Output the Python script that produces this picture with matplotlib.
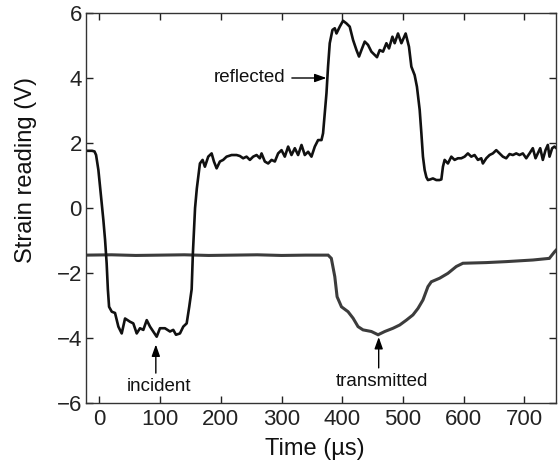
import matplotlib
matplotlib.use("Agg")
import matplotlib.pyplot as plt

plt.rcParams['font.family'] = ['Liberation Sans', 'DejaVu Sans']

# Incident / reflected bar signal (time in µs, strain reading in V)
bar_time = [-22, -18, -12, -8, -5.4, -1.6, 1.2, 3.9, 6.6, 9.4, 12, 14, 16, 20.4, 25.8,
            31.3, 36.8, 42.3, 50.5, 55.9, 61.5, 66.9, 72.4, 78, 83.4, 88.8, 94.4,
            99.8, 108, 116.3, 121.7, 126.2, 132.7, 138.2, 143.8, 148, 152, 154,
            157.6, 160.5, 162.8, 165.6, 170, 173.8, 179.3, 184.9, 188.7, 193.1,
            198.5, 203.9, 209.5, 217.8, 226, 231.4, 236.8, 242.4, 247.9, 253.3,
            258.9, 264.3, 267.1, 272.5, 278, 283.6, 289, 294.4, 300, 305.4, 310.9,
            316.4, 321.9, 327.3, 332.9, 338.3, 343.8, 349.3, 354.8, 360.2, 365.8,
            368.4, 371.2, 374, 376.6, 379.4, 383.9, 387.7, 390.5, 395.9, 401.3,
            406.9, 412.3, 417.8, 423.4, 427.6, 431.6, 437, 442.4, 448, 453.5, 457.2,
            461.7, 467.1, 472.7, 477, 482.6, 486.3, 491.8, 497.4, 504.4, 509.9,
            513.8, 519.2, 523, 527.5, 530.3, 532.9, 535.7, 538.5, 541.1, 545, 549.3,
            554.9, 560, 563.2, 565.8, 568.6, 574, 579.6, 585, 590.5, 596, 601.5,
            606.9, 612.5, 617.9, 623.4, 628.9, 631.6, 637.2, 642.6, 648, 653.6, 659,
            664.5, 670, 675.5, 681, 686.5, 691.9, 697.4, 703, 708.4, 713.8, 718.3,
            722, 726, 730.3, 734.7, 738.5, 741.3, 745.7, 749.5, 752]
bar_volt = [1.76, 1.76, 1.76, 1.74, 1.63, 1.17, 0.66, 0.14, -0.37, -0.98, -1.7, -2.5,
            -3.04, -3.19, -3.23, -3.65, -3.86, -3.4, -3.5, -3.55, -3.86, -3.7, -3.75,
            -3.45, -3.65, -3.8, -3.96, -3.7, -3.7, -3.8, -3.75, -3.9, -3.86, -3.65,
            -3.55, -3.04, -2.5, -1.4, 0.0, 0.6, 0.96, 1.37, 1.48, 1.27, 1.58, 1.68,
            1.43, 1.22, 1.43, 1.48, 1.58, 1.63, 1.63, 1.6, 1.53, 1.58, 1.48, 1.58,
            1.63, 1.53, 1.68, 1.43, 1.37, 1.48, 1.43, 1.68, 1.78, 1.58, 1.89, 1.63,
            1.84, 1.63, 1.94, 1.63, 1.73, 1.58, 1.89, 2.09, 2.09, 2.3, 2.91, 3.53,
            4.35, 5.07, 5.48, 5.53, 5.37, 5.58, 5.76, 5.68, 5.58, 5.17, 4.86, 4.66,
            4.86, 5.12, 5.02, 4.81, 4.71, 4.64, 4.86, 4.81, 5.07, 4.91, 5.27, 5.07,
            5.37, 5.07, 5.37, 4.96, 4.35, 4.09, 3.73, 3.02, 2.3, 1.58, 1.17, 0.95,
            0.86, 0.88, 0.91, 0.86, 0.86, 0.88, 1.27, 1.48, 1.37, 1.58, 1.48, 1.53,
            1.53, 1.58, 1.68, 1.58, 1.63, 1.48, 1.53, 1.37, 1.53, 1.63, 1.68, 1.78,
            1.68, 1.58, 1.53, 1.66, 1.63, 1.68, 1.63, 1.68, 1.53, 1.68, 1.84, 1.53,
            1.68, 1.84, 1.48, 1.78, 1.94, 1.58, 1.84, 1.89, 1.85]

# Transmitted bar signal
trans_time = [-22, 20, 60, 100, 140, 180, 220, 260, 300, 340, 376.7, 382, 387.7, 391.5,
              398.7, 409.5, 417.8, 426, 434.2, 448, 459, 470, 483.6, 494.6, 505.6,
              516.4, 524.7, 532.9, 541.1, 546.7, 560.4, 574, 587.8, 598.7, 637, 670,
              714, 741, 749.5, 752]
trans_volt = [-1.45, -1.44, -1.46, -1.45, -1.44, -1.46, -1.45, -1.44, -1.46, -1.45,
              -1.45, -1.55, -2.11, -2.73, -3.04, -3.19, -3.39, -3.65, -3.75, -3.8,
              -3.9, -3.8, -3.7, -3.6, -3.45, -3.29, -3.09, -2.83, -2.42, -2.27, -2.16,
              -2.01, -1.8, -1.7, -1.68, -1.65, -1.6, -1.55, -1.35, -1.3]

x_ticks = [0, 100, 200, 300, 400, 500, 600, 700]
y_ticks = [-6, -4, -2, 0, 2, 4, 6]

fig = plt.figure(figsize=(5.58, 4.66), dpi=100)
ax = fig.add_axes([86/558, 1-403/466, (556-86)/558, (403-13)/466])

ax.plot(trans_time, trans_volt, color='#3c3c3c', lw=2.2, solid_joinstyle='miter')
ax.plot(bar_time, bar_volt, color='#111111', lw=1.9)

ax.set_xlim(-22, 752)
ax.set_ylim(-6, 6)
ax.set_xticks(x_ticks)
ax.set_yticks(y_ticks)
ax.tick_params(direction='in', top=True, right=True, length=5, width=1,
               labelsize=16, colors='#222222')
ax.tick_params(axis='x', pad=4)
ax.tick_params(axis='y', pad=3)
for s in ax.spines.values():
    s.set_color('#333333')
    s.set_linewidth(1)

fig.text(315/558, 1-449/466, 'Time (µs)', ha='center', va='center', fontsize=17,
         color='#111111')
fig.text(26/558, 1-170/466, 'Strain reading (V)', ha='center', va='center',
         rotation=90, fontsize=17, color='#111111')

arrow = dict(arrowstyle='-|>,head_length=0.7,head_width=0.25', color='black',
             lw=1.0, shrinkA=0, shrinkB=0)
# reflected
ax.annotate('', xy=(374, 4.0), xytext=(317, 4.0), arrowprops=arrow)
ax.text(306, 4.0, 'reflected', ha='right', va='center', fontsize=13.5, color='#111111')
# incident
ax.annotate('', xy=(93, -4.2), xytext=(93, -5.08), arrowprops=arrow)
ax.text(98, -5.5, 'incident', ha='center', va='center', fontsize=13.5, color='#111111')
# transmitted
ax.annotate('', xy=(460, -3.97), xytext=(460, -4.92), arrowprops=arrow)
ax.text(466, -5.35, 'transmitted', ha='center', va='center', fontsize=13.5,
        color='#111111')

fig.savefig('out.png', dpi=100)
